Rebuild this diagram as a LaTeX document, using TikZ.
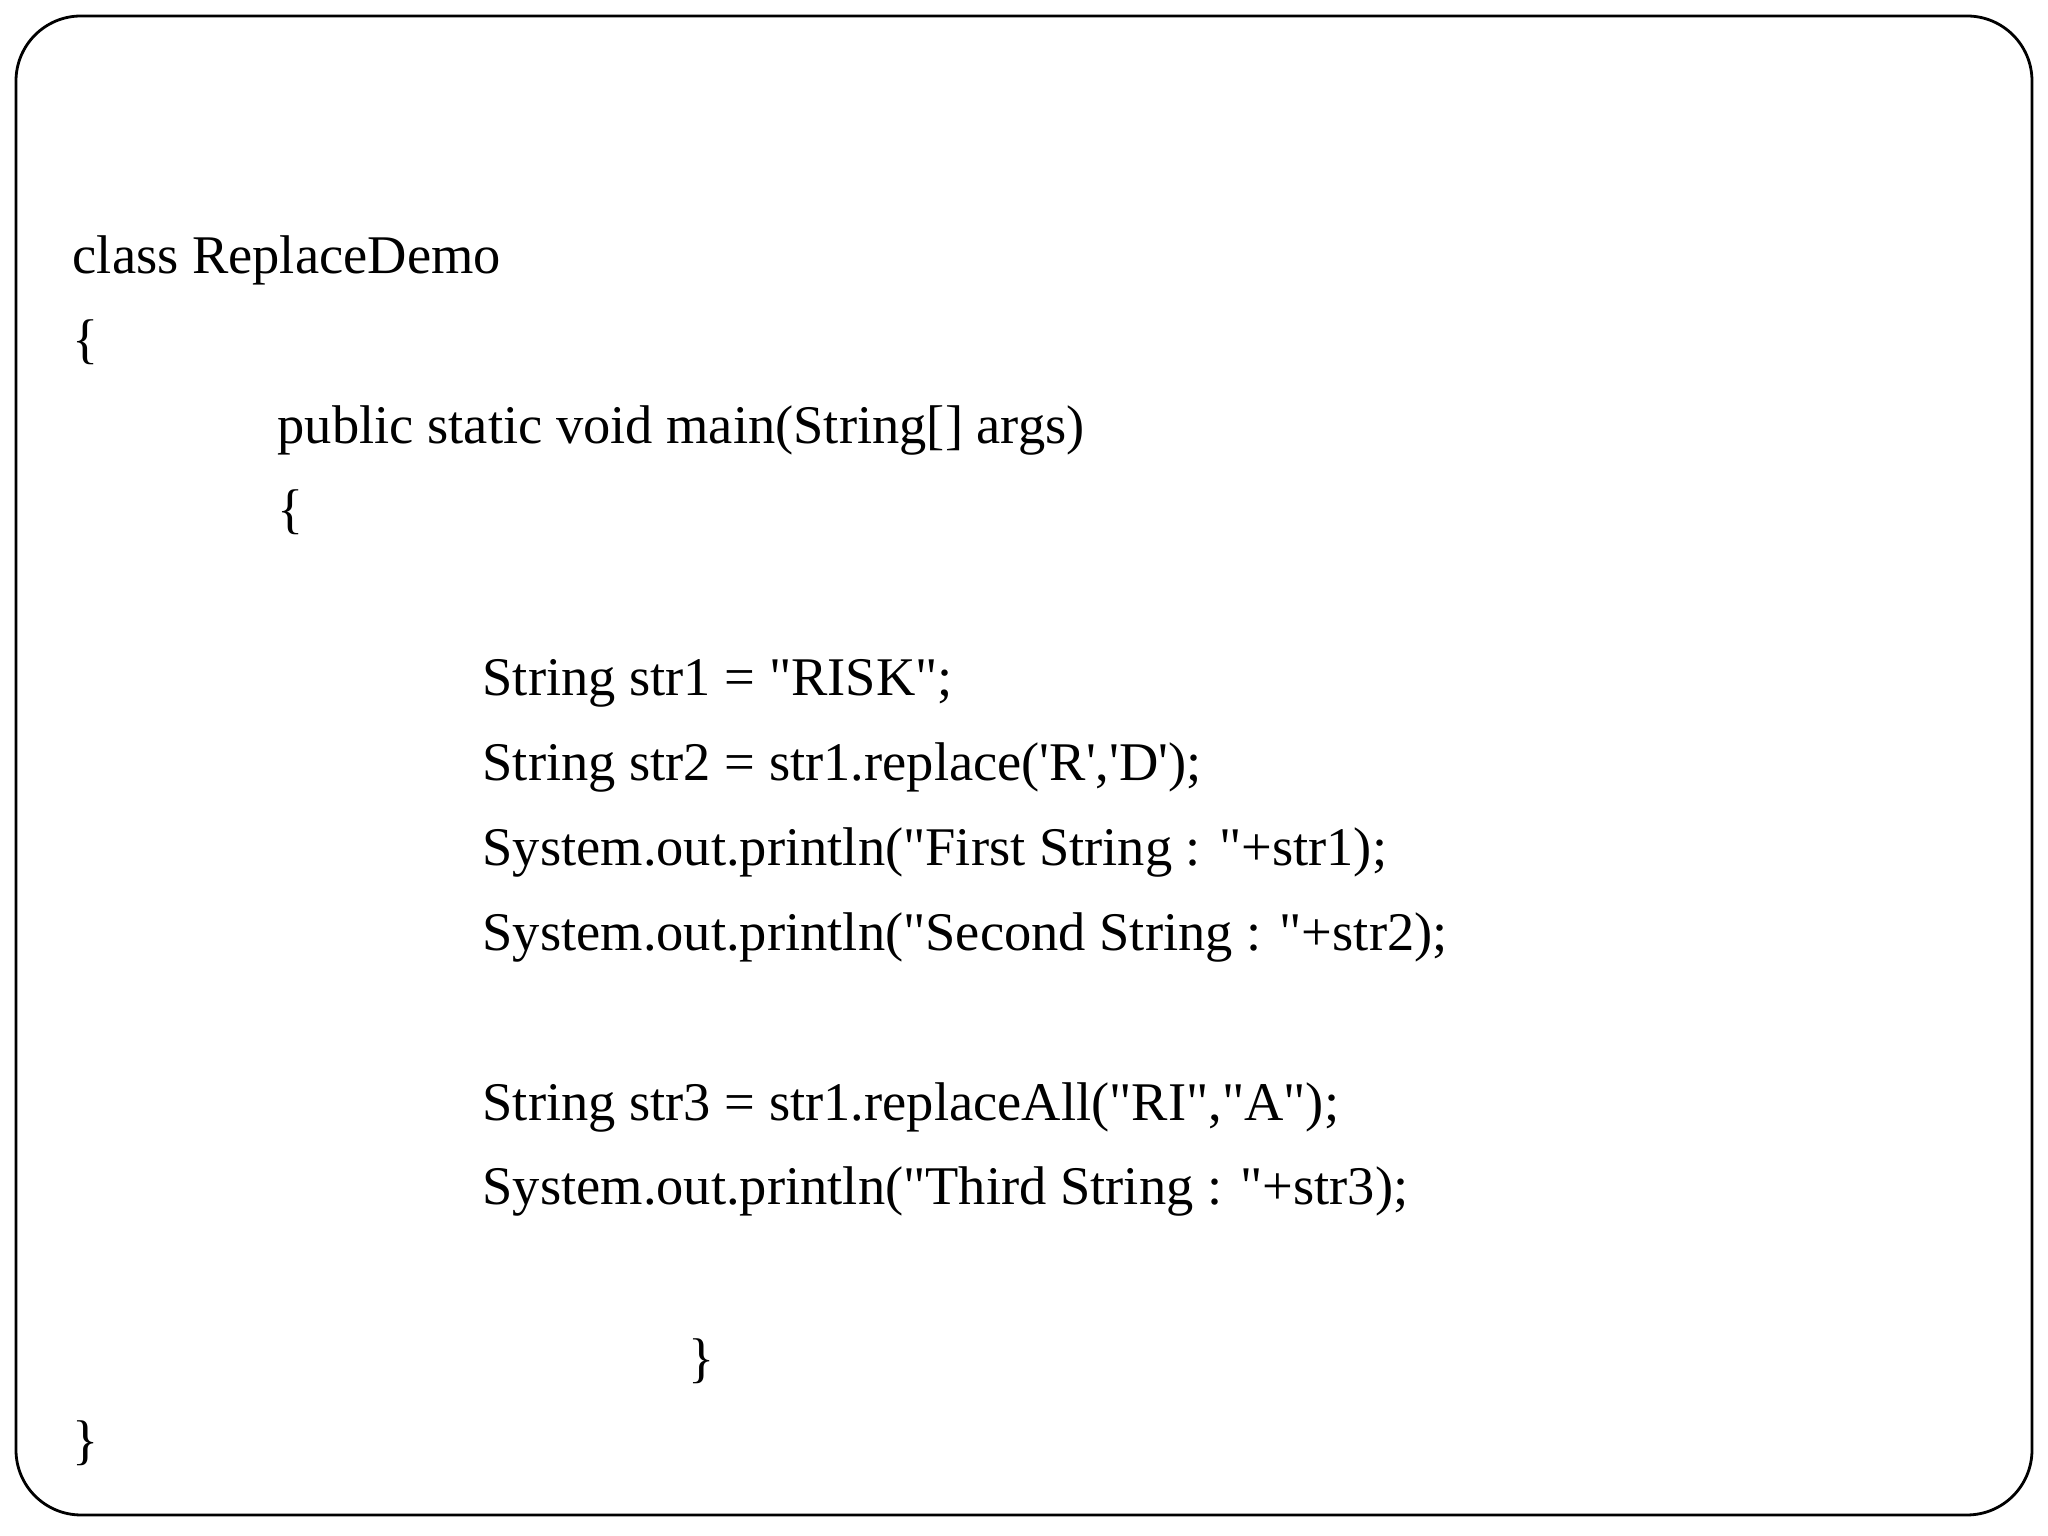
\documentclass[tikz,border=0pt]{standalone}
\usepackage{fontspec}
\setmainfont{Liberation Serif}
\newcommand{\dq}{\textquotedbl}
\newcommand{\sq}{\textquotesingle}
\begin{document}
\begin{tikzpicture}[x=1cm,y=1cm,code/.style={anchor=base west,inner sep=0pt,font=\fontsize{15.5}{19}\selectfont}]
\useasboundingbox (0,0) rectangle (20.48,15.36);
\draw[line width=0.8pt,rounded corners=0.65cm] (0.16,0.21) rectangle (20.32,15.2);
\node[code] (l1) at (0.72,12.62) {class ReplaceDemo};
\node[code,anchor=west] (b1) at (0.72,11.94) {\{};
\node[code] (l2) at (2.77,10.92) {public static void main(String[] args)};
\node[code,anchor=west] (b2) at (2.77,10.24) {\{};
\node[code] (l3) at (4.82,8.40) {String str1 = \dq RISK\dq;};
\node[code] (l4) at (4.82,7.55) {String str2 = str1.replace(\sq R\sq,\sq D\sq);};
\node[code] (l5) at (4.82,6.70) {System.out.println(\dq First String : \dq+str1);};
\node[code] (l6) at (4.82,5.85) {System.out.println(\dq Second String : \dq+str2);};
\node[code] (l7) at (4.82,4.15) {String str3 = str1.replaceAll(\dq RI\dq,\dq A\dq);};
\node[code] (l8) at (4.82,3.31) {System.out.println(\dq Third String : \dq+str3);};
\node[code,anchor=west] (b3) at (6.88,1.75) {\}};
\node[code,anchor=west] (b4) at (0.72,0.93) {\}};
\end{tikzpicture}
\end{document}
